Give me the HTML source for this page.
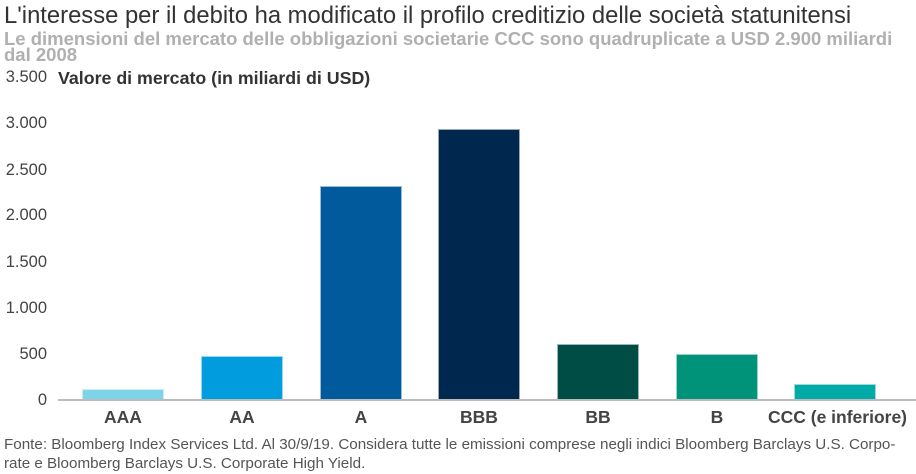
<!DOCTYPE html>
<html><head><meta charset="utf-8"><style>
body{margin:0;width:916px;height:474px;background:#fff;font-family:"Liberation Sans",sans-serif;overflow:hidden;position:relative}
.t{position:absolute;left:4px;white-space:nowrap}
.y{position:absolute;left:0;width:47px;text-align:right;font-size:16.5px;color:#444}
.bar{position:absolute;width:82px;box-sizing:border-box;border:1px solid rgba(255,255,255,.6);border-bottom:none}
.c{position:absolute;top:407px;width:130px;text-align:center;font-size:17.5px;font-weight:bold;color:#444}
</style></head><body>
<div class="t" style="top:2px;font-size:23.8px;color:#333">L'interesse per il debito ha modificato il profilo creditizio delle società statunitensi</div>
<div class="t" style="top:31px;font-size:18.5px;font-weight:bold;color:#b0b0b0;line-height:16px;width:912px;white-space:normal">Le dimensioni del mercato delle obbligazioni societarie CCC sono quadruplicate a USD 2.900 miliardi dal 2008</div>
<div class="t" style="top:68px;left:58px;font-size:17.8px;font-weight:bold;color:#333">Valore di mercato (in miliardi di USD)</div>
<div class="y" style="top:68px">3.500</div>
<div class="y" style="top:114px">3.000</div>
<div class="y" style="top:161px">2.500</div>
<div class="y" style="top:206px">2.000</div>
<div class="y" style="top:253px">1.500</div>
<div class="y" style="top:299px">1.000</div>
<div class="y" style="top:345px">500</div>
<div class="y" style="top:391px">0</div>
<div style="position:absolute;left:58px;top:399px;width:858px;height:2px;background:#bbb"></div>
<div class="bar" style="left:82px;top:389px;height:10px;background:#7dd3e8"></div>
<div class="bar" style="left:201px;top:356px;height:43px;background:#009cde"></div>
<div class="bar" style="left:320px;top:186px;height:213px;background:#005a9c"></div>
<div class="bar" style="left:438px;top:129px;height:270px;background:#00274d"></div>
<div class="bar" style="left:557px;top:344px;height:55px;background:#004d45"></div>
<div class="bar" style="left:676px;top:354px;height:45px;background:#00937a"></div>
<div class="bar" style="left:794px;top:384px;height:15px;background:#00aaa6"></div>
<div class="c" style="left:58px">AAA</div>
<div class="c" style="left:177px">AA</div>
<div class="c" style="left:296px">A</div>
<div class="c" style="left:414px">BBB</div>
<div class="c" style="left:533px">BB</div>
<div class="c" style="left:652px">B</div>
<div class="c" style="left:765px;width:145px">CCC (e inferiore)</div>
<div class="t" style="top:435px;font-size:15.2px;color:#555;line-height:19px;width:914px;white-space:nowrap">Fonte: Bloomberg Index Services Ltd. Al 30/9/19. Considera tutte le emissioni comprese negli indici Bloomberg Barclays U.S. Corpo-<br>rate e Bloomberg Barclays U.S. Corporate High Yield.</div>
</body></html>
